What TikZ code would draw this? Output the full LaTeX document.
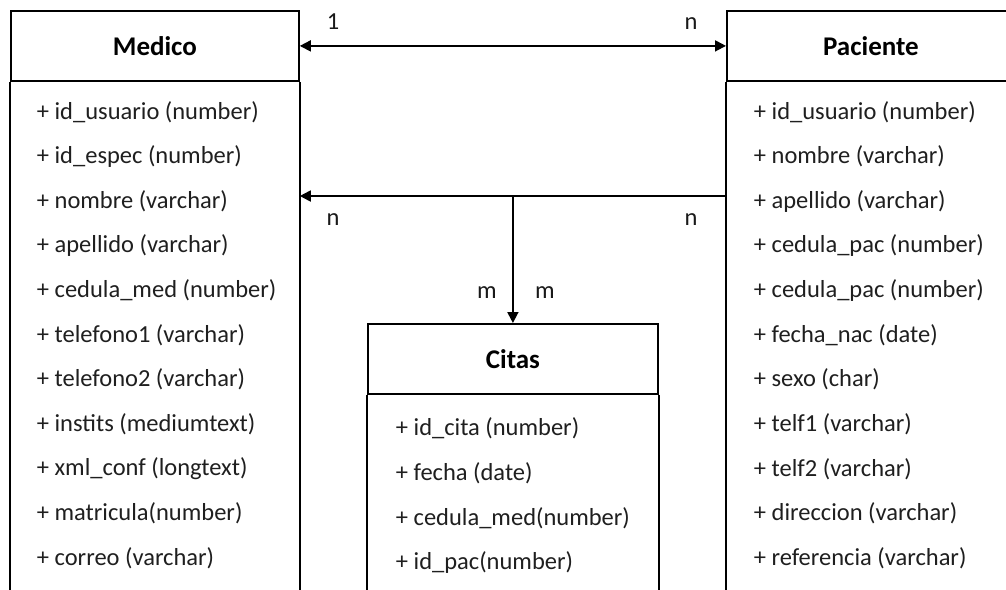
\documentclass[tikz,border=0pt]{standalone}
\usepackage{fontspec}
\setmainfont{Carlito}
\usetikzlibrary{arrows.meta}
\begin{document}
\begin{tikzpicture}[x=1pt,y=-1pt, line width=1.8pt,
  titlebox/.style={draw, minimum height=70pt, anchor=north west, inner sep=0pt,
    font=\fontsize{27}{30}\selectfont\bfseries},
  attr/.style={anchor=west, inner sep=0pt, text=black!88,
    font=\fontsize{24.5}{28}\selectfont},
  lab/.style={inner sep=0pt, text=black!90, font=\fontsize{24.5}{28}\selectfont},
  onehead/.style={-{Triangle[length=11pt,width=11pt]}},
  twohead/.style={{Triangle[length=11pt,width=11pt]}-{Triangle[length=11pt,width=11pt]}}
]
\useasboundingbox (0,0) rectangle (1006,589);
\clip (0,0) rectangle (1006,589);
\fill[white] (0,0) rectangle (1006,589);

% class boxes (titles)
\node[titlebox, minimum width=288pt] (med) at (10,10) {Medico};
\node[titlebox, minimum width=288pt] (pac) at (726,10) {Paciente};
\node[titlebox, minimum width=290pt] (cit) at (367,323) {Citas};

% open bodies
\draw (med.south west) -- ++(0,600);
\draw (med.south east) -- ++(0,600);
\draw (pac.south west) -- ++(0,600);
\draw (pac.south east) -- ++(0,600);
\draw (cit.south west) -- ++(0,600);
\draw (cit.south east) -- ++(0,600);

% attributes
\foreach \t [count=\i] in {+ id\_usuario (number), + id\_espec (number), + nombre (varchar), + apellido (varchar), + cedula\_med (number), + telefono1 (varchar), + telefono2 (varchar), + instits (mediumtext), + xml\_conf (longtext), + matricula(number), + correo (varchar)}
  \node[attr] (ma\i) at (36,{112+44.6*(\i-1)}) {\t};
\foreach \t [count=\i] in {+ id\_usuario (number), + nombre (varchar), + apellido (varchar), + cedula\_pac (number), + cedula\_pac (number), + fecha\_nac (date), + sexo (char), + telf1 (varchar), + telf2 (varchar), + direccion (varchar), + referencia (varchar)}
  \node[attr] (pa\i) at (753,{112+44.6*(\i-1)}) {\t};
\foreach \t [count=\i] in {+ id\_cita (number), + fecha (date), + cedula\_med(number), + id\_pac(number)}
  \node[attr] (ca\i) at (395,{428+45*(\i-1)}) {\t};

% connectors
\draw[twohead] (med.east) -- (pac.west);
\coordinate (j) at (cit.north |- 0,196);
\draw[onehead] (pac.west |- j) -- (med.east |- j);
\draw[onehead] (j) -- (cit.north);

% multiplicities
\node[lab] (l1) at (333,22) {1};
\node[lab] (l2) at (691,24) {n};
\node[lab] (l3) at (333,220) {n};
\node[lab] (l4) at (691,220) {n};
\node[lab] (l5) at (487,293) {m};
\node[lab] (l6) at (545,293) {m};
\end{tikzpicture}
\end{document}
